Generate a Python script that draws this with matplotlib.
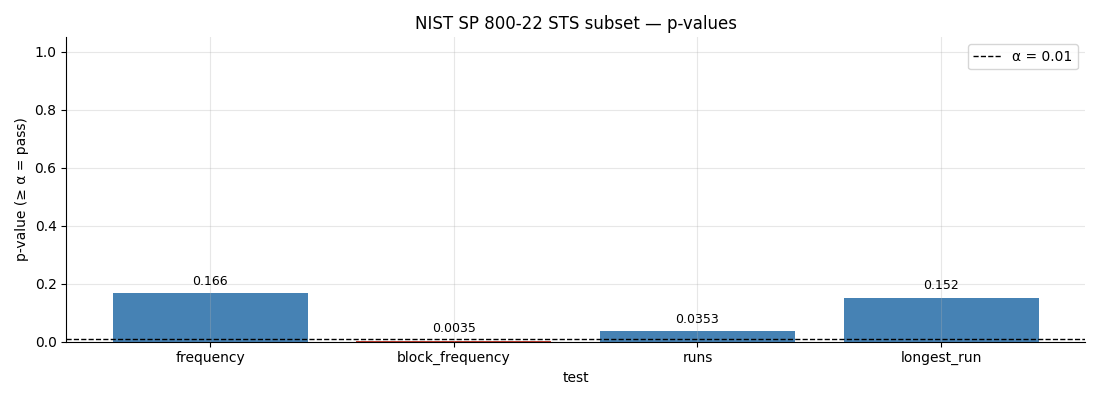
import matplotlib
matplotlib.use("Agg")
import matplotlib.pyplot as plt
import numpy as np

tests = ["frequency", "block_frequency", "runs", "longest_run"]
p_values = [0.166, 0.0035, 0.0353, 0.152]
labels = ["0.166", "0.0035", "0.0353", "0.152"]
alpha = 0.01

colors = ["steelblue" if p >= alpha else "#c0392b" for p in p_values]

fig, ax = plt.subplots(figsize=(11, 4), dpi=100)
x = np.arange(len(tests))
bars = ax.bar(x, p_values, color=colors)
ax.axhline(alpha, color="black", linestyle="--", linewidth=1, label="α = 0.01")

for b, lab in zip(bars, labels):
    ax.annotate(lab, (b.get_x() + b.get_width() / 2, b.get_height()),
                xytext=(0, 4), textcoords="offset points",
                ha="center", va="bottom", fontsize=9)

ax.set_xticks(x, tests)
ax.set_ylim(0, 1.05)
ax.set_xlabel("test")
ax.set_ylabel("p-value (≥ α = pass)")
ax.set_title("NIST SP 800-22 STS subset — p-values")
ax.grid(True, alpha=0.3)
ax.spines["top"].set_visible(False)
ax.spines["right"].set_visible(False)
ax.legend(loc="upper right")

fig.tight_layout()
fig.savefig("out.png")
